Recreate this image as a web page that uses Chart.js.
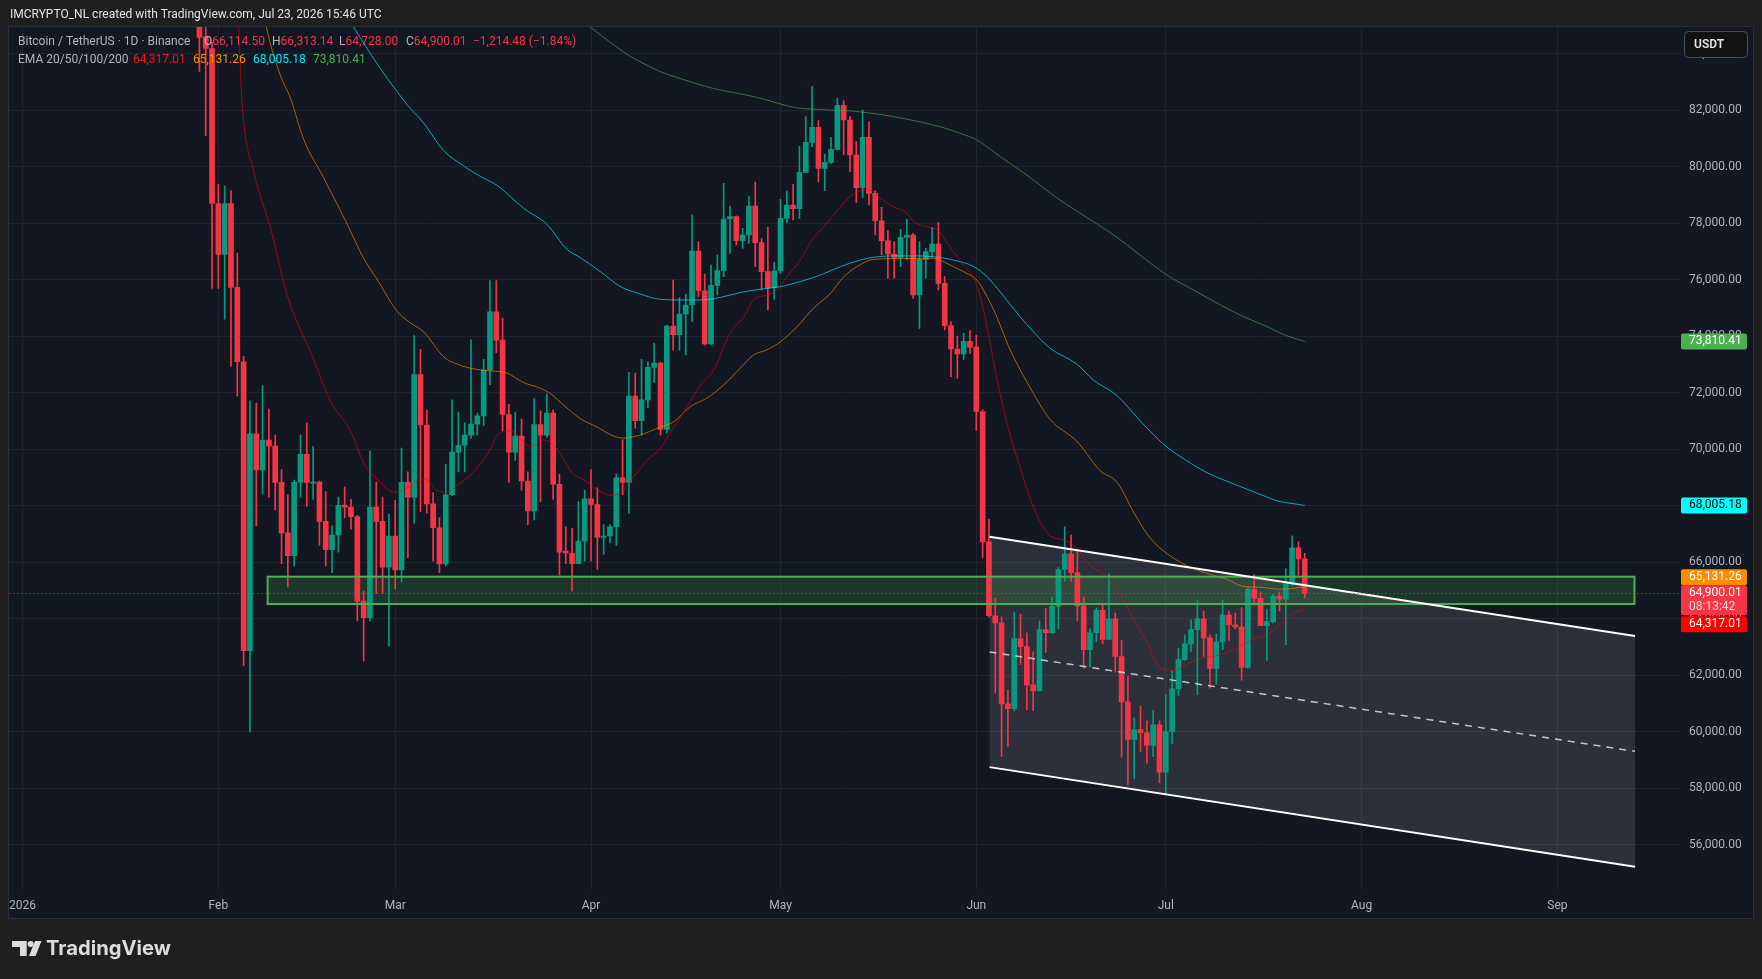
<!DOCTYPE html>
<html>
<head>
<meta charset="utf-8">
<title>Bitcoin / TetherUS 1D</title>
<script src="https://cdn.jsdelivr.net/npm/chart.js@4.4.1/dist/chart.umd.min.js"></script>
<style>
  html, body { margin: 0; padding: 0; background: #1f1f1f; }
  canvas { display: block; }
</style>
</head>
<body>
<canvas id="chart" width="1762" height="979"></canvas>
<script>
// daily candles, one per day starting at firstDate
const firstDate = "2026-01-29";

const opens = [
  85600, 84600, 84182,
  78694, 76892, 78694, 75723, 73092, 62863, 70543, 69260, 70316, 70105, 68822, 67036, 66224, 68822, 69813, 68790, 68830, 67442, 66436, 66955, 68010, 67945, 67605, 64617, 64032, 67945, 67442, 65818,
  66923, 65720, 68822, 68302, 72638, 70852, 68059, 67215, 65932, 68383, 69894, 70138, 70494, 70884, 71176, 72800, 74862, 73856, 71225, 69894, 70462, 68870, 67815, 70868, 70494, 71274, 68757, 66387, 66322, 65948, 66740,
  68240, 68040, 66874, 66923, 67248, 68980, 68822, 71875, 71010, 71740, 72895, 73044, 70700, 74358, 74050, 74782, 75100, 77012, 75607, 73720, 75796, 76316, 78144, 78227, 77378, 77578, 78605, 77307, 76280, 75713,
  76304, 78168, 78640, 78510, 79797, 80859, 81389, 79938, 80151, 80611, 82168, 81649, 80410, 79254, 81035, 79053, 78085, 77378, 76906, 76788, 77496, 77578, 75454, 76717, 76988, 77260, 75867, 74369, 73543, 73366, 73814,
  73610, 71330, 66717, 64100, 63849, 60981, 60813, 63289, 63009, 61652, 61442, 63611, 63499, 64436, 65737, 66297, 65625, 64450, 62898, 63499, 64296, 63261, 63989, 62660, 61051, 59722, 60072, 59960, 59512, 60240,
  58560, 60002, 61512, 62548, 63107, 63611, 63989, 63317, 62240, 63177, 64128, 63779, 63709, 62268, 65038, 64716, 63751, 63891, 64800, 64688, 65220, 66507, 66114.50
];
const highs = [
  86200, 85300, 84400,
  79376, 79311, 79149, 76941, 73287, 71712, 71631, 72248, 71420, 70494, 69277, 68383, 68900, 70494, 70933, 70089, 68870, 68497, 67280, 68302, 68660, 68221, 67653, 64973, 69927, 68822, 68302, 67702,
  68189, 70040, 69196, 74018, 73531, 71388, 68465, 67572, 69472, 71745, 71307, 70933, 73872, 71274, 73174, 75966, 75966, 74635, 71582, 71307, 71063, 69196, 71777, 71355, 71956, 71388, 69114, 67248, 67199, 68140, 68546,
  69277, 68627, 67329, 67329, 69114, 70332, 72719, 72687, 73174, 73093, 73742, 73093, 74391, 75980, 75366, 75479, 78286, 77342, 76198, 76516, 76870, 79407, 78605, 78260, 77814, 78935, 79454, 77460, 77850, 76611,
  78841, 79135, 79372, 80729, 81767, 82829, 81625, 80434, 81035, 82416, 82333, 81767, 80882, 82003, 81590, 79147, 78557, 77732, 77342, 77779, 78133, 77637, 77342, 77106, 77850, 78026, 76103, 74510, 74003, 74097, 74192,
  74030, 71403, 67515, 64716, 64058, 61470, 64226, 64156, 63499, 62827, 63919, 64366, 64758, 65807, 67248, 66955, 66437, 64758, 63639, 64380, 64548, 65597, 64198, 63219, 61960, 60491, 60911, 60379, 60743, 60379,
  61302, 62142, 62940, 63429, 63961, 64660, 64268, 63429, 63457, 64660, 64268, 64198, 64380, 65100, 65555, 64940, 64338, 64856, 64940, 65765, 66927, 66717, 66313.14
];
const lows = [
  83370, 81097, 75690,
  75690, 74602, 72930, 71875, 62327, 59989, 67280, 68416, 68302, 67848, 65948, 65120, 65866, 68302, 67978, 68221, 66598, 65866, 65623, 66354, 67572, 67166, 63919, 62506, 63919, 64893, 64893, 63025,
  65055, 65298, 66160, 67377, 67783, 67735, 66029, 65623, 65866, 68351, 69196, 69196, 70381, 70494, 70819, 72281, 73417, 70657, 68822, 69602, 68546, 67328, 67491, 68140, 70413, 68221, 65542, 65948, 64974, 65940, 66029,
  66029, 65737, 66273, 66679, 66598, 68383, 67734, 70738, 70494, 71469, 72362, 70494, 70575, 73499, 73499, 73336, 74510, 75395, 73680, 73684, 75454, 76103, 76929, 77224, 77106, 77283, 76457, 75631, 74923, 75301,
  76221, 78015, 78109, 78168, 79785, 80705, 79466, 79147, 80115, 80587, 80410, 79820, 78723, 78912, 78640, 77578, 76870, 76044, 76044, 76457, 76693, 75336, 74274, 76044, 76811, 75631, 74215, 72563, 72504, 73177, 73389,
  70660, 66157, 64050, 61358, 59120, 59470, 60729, 62380, 60771, 60743, 61442, 62799, 63457, 63639, 65318, 65318, 63919, 62240, 62282, 63177, 63107, 63261, 62100, 59093, 58112, 58322, 59302, 58882, 59120, 58182,
  57805, 59582, 61260, 62520, 62828, 61302, 62660, 61540, 61680, 62898, 63219, 63639, 61820, 62240, 64478, 63737, 62520, 63849, 64268, 63079, 65178, 65527, 64728.00
];
const closes = [
  84572, 84182, 78694,
  76892, 78694, 75723, 73092, 62863, 70543, 69260, 70316, 70105, 68822, 67036, 66224, 68822, 69813, 68822, 68830, 67442, 66436, 66955, 68010, 67945, 67605, 64617, 64032, 67945, 67442, 65818, 66923,
  65720, 68822, 68302, 72638, 70852, 68059, 67215, 65932, 68383, 69894, 70138, 70494, 70884, 71176, 72800, 74862, 73856, 71225, 69894, 70462, 68870, 67815, 70868, 70494, 71274, 68757, 66354, 66322, 65948, 66740, 68240,
  68040, 66874, 66923, 67248, 68980, 68822, 71875, 71010, 71740, 72895, 73044, 70700, 74358, 74050, 74782, 75100, 77012, 75607, 73720, 75796, 76316, 78144, 78227, 77378, 77578, 78605, 77307, 76280, 75713, 76304,
  78168, 78640, 78510, 79797, 80859, 81389, 79938, 80151, 80611, 82168, 81649, 80410, 79254, 81035, 79053, 78085, 77378, 76906, 76788, 77496, 77578, 75454, 76717, 76988, 77260, 75867, 74369, 73543, 73366, 73814, 73610,
  71330, 66717, 64100, 63849, 60981, 60813, 63289, 63009, 61652, 61442, 63611, 63499, 64436, 65737, 66297, 65625, 64450, 62898, 63499, 64296, 63261, 63989, 62660, 61051, 59722, 60072, 59960, 59512, 60240, 58560,
  60002, 61512, 62548, 63107, 63611, 63989, 63317, 62240, 63177, 64128, 63779, 63709, 62268, 65038, 64716, 63751, 63891, 64800, 64688, 65220, 66507, 66114.49, 64900.01
];

// EMA readings as [day of year, price]
const ema20 = [
  [33.6, 87000], [34.2, 84940], [34.75, 82270], [36.6, 79830], [39.2, 77880], [41.9, 75450], [46.1, 73170],
  [48.7, 71710], [51.9, 70660], [54.0, 69520], [56.1, 68950], [58.8, 68470], [60.9, 68630], [63.5, 68950],
  [65.6, 68550], [67.2, 68470], [68.8, 68710], [71.4, 69200], [74.1, 70010], [75.1, 70490], [77.2, 70660],
  [79.3, 70250], [80.4, 70090], [82.5, 70330], [84.6, 70010], [87.2, 69110], [88.8, 68930], [90.9, 68580],
  [93.0, 68370], [94.6, 68430], [96.7, 69020], [98.9, 69610], [101.0, 70030], [103.1, 70790], [105.2, 71500],
  [107.3, 72270], [109.4, 72800], [112.0, 74100], [114.2, 74690], [115.7, 75280], [117.8, 75450], [119.4, 75630],
  [121.0, 76100], [123.1, 76690], [125.2, 77460], [127.3, 77990], [129.5, 78580], [131.6, 79050], [133.7, 79170],
  [134.7, 79110], [135.8, 78880], [137.9, 78580], [140.0, 78350], [141.1, 78050], [143.2, 77870], [144.8, 77760],
  [146.3, 77340], [148.4, 76670], [151.1, 75800], [152.7, 74330], [154.2, 72560], [156.1, 70700], [158.0, 69310],
  [160.1, 67910], [162.7, 66930], [164.8, 66790], [166.9, 66510], [169.0, 65880], [171.1, 65600], [173.8, 64830],
  [175.9, 63990], [178.0, 63150], [180.1, 62240], [182.2, 62170], [184.3, 62380], [186.4, 62590], [188.5, 62660],
  [190.7, 62800], [192.8, 63010], [194.9, 63290], [197.0, 63430], [199.1, 63780], [201.2, 64200], [203, 64317.01]
];
const ema50 = [
  [36.6, 87500], [38.6, 84940], [40.8, 83240], [42.4, 82430], [44.5, 80970], [47.7, 79590], [51.4, 77960],
  [54.0, 76750], [56.1, 76020], [59.3, 74880], [61.4, 74470], [63.5, 74150], [66.7, 73260], [68.8, 73010],
  [71.9, 72820], [74.1, 72770], [76.7, 72690], [79.3, 72360], [82.0, 72150], [83.6, 71960], [85.7, 71550],
  [88.5, 71050], [90.9, 70790], [93.6, 70460], [95.2, 70390], [97.8, 70500], [100.4, 70730], [103.1, 70970],
  [105.7, 71500], [108.3, 71800], [111.0, 72270], [113.6, 72860], [115.7, 73330], [117.8, 73510], [120.0, 73800],
  [122.6, 74330], [125.2, 74980], [127.9, 75510], [130.0, 76100], [132.1, 76460], [134.2, 76690], [136.8, 76740],
  [139.5, 76750], [142.1, 76750], [144.2, 76750], [145.8, 76630], [147.9, 76400], [150.0, 76160], [151.1, 75980],
  [152.7, 75400], [154.3, 74650], [156.1, 73640], [159.0, 72380], [162.7, 71050], [166.9, 70280], [170.6, 69240],
  [173.3, 68820], [175.9, 67770], [178.5, 66860], [181.2, 66300], [184.3, 65880], [187.5, 65600], [190.7, 65390],
  [193.3, 65140], [195.9, 65110], [199.1, 65040], [201.2, 65070], [203, 65131.26]
];
const ema100 = [
  [48, 86500], [52.4, 84940], [56.1, 83650], [60.9, 82190], [63.5, 81540], [66.7, 80560], [69.8, 80030],
  [73.0, 79590], [75.1, 79340], [79.3, 78530], [83.0, 77960], [86.2, 77070], [88.3, 76780], [91.5, 76280],
  [94.6, 75760], [97.8, 75490], [101.0, 75300], [104.1, 75280], [107.3, 75280], [110.5, 75370], [113.6, 75540],
  [116.8, 75660], [120.0, 75750], [123.1, 75930], [126.3, 76160], [129.5, 76460], [132.6, 76690], [134.7, 76790],
  [137.9, 76840], [141.1, 76840], [144.2, 76810], [147.4, 76690], [150.6, 76460], [152.7, 76100], [154.8, 75560],
  [156.4, 75110], [159.0, 74410], [162.7, 73570], [166.9, 73010], [169.5, 72450], [173.3, 71890], [175.9, 71260],
  [178.5, 70630], [181.2, 70070], [184.3, 69590], [187.5, 69170], [190.7, 68860], [193.3, 68630], [195.9, 68400],
  [199.1, 68140], [201.2, 68070], [203, 68005.18]
];
const ema200 = [
  [84, 85950], [89.9, 84940], [95.2, 84050], [97.3, 83770], [101.0, 83360], [104.1, 83120], [108.3, 82830],
  [110.5, 82710], [114.7, 82530], [117.8, 82360], [122.1, 82100], [125.2, 82030], [130.5, 81980], [133.7, 81910],
  [137.9, 81770], [141.1, 81630], [145.3, 81410], [148.4, 81180], [151.1, 80940], [154.8, 80350], [159.0, 79700],
  [163.7, 78900], [166.9, 78430], [173.3, 77490], [179.0, 76510], [181.2, 76160], [185.4, 75630], [189.6, 75110],
  [193.3, 74690], [197.0, 74340], [199.6, 74060], [203, 73810.41]
];

// axes
const monthTicks = [0, 31, 59, 90, 120, 151, 181, 212, 243];
const monthLabels = ["2026", "Feb", "Mar", "Apr", "May", "Jun", "Jul", "Aug", "Sep"];
const priceTicks = [56000, 58000, 60000, 62000, 64000, 66000, 68000, 70000, 72000, 74000, 76000, 78000, 80000, 82000, 84000];

// drawings (day of year, price)
const zoneDays = [38.8, 255.2];
const zonePrices = [64516, 65484];
const channelDays = [153.1, 255.3];
const channelUpper = [66899, 63384];
const channelLower = [58743, 55218];

const countdown = "08:13:42";
const headerText = "IMCRYPTO_NL created with TradingView.com, Jul 23, 2026 15:46 UTC";

// ---------------------------------------------------------------
const UP = "#089981";
const DOWN = "#f23645";
const GRID = "#20242f";
const TEXT = "#b2b5be";
const FONT = "Roboto, 'Noto Sans', sans-serif";
const emaColors = ["#f21616", "#ff8c00", "#00e5ff", "#4caf50"];
const emaLines = ["rgba(255,0,0,0.55)", "rgba(255,140,0,0.62)", "rgba(0,229,255,0.7)", "rgba(76,175,80,0.6)"];

const dayOfYear = (iso) => (Date.parse(iso) - Date.parse("2026-01-01")) / 86400000;
const startDay = dayOfYear(firstDate);
const days = closes.map((_, i) => startDay + i);
const candleColors = closes.map((c, i) => (c >= opens[i] ? UP : DOWN));
const last = closes.length - 1;

const fmt = (v) => v.toLocaleString("en-US", { minimumFractionDigits: 2, maximumFractionDigits: 2 });
const fmtSigned = (v) => (v < 0 ? "\u2212" : "+") + fmt(Math.abs(v));

const emaLine = (pts, color, label) => ({
  type: "line",
  label: label,
  data: pts.map(([x, y]) => ({ x: x, y: y })),
  borderColor: color,
  borderWidth: 1,
  pointRadius: 0,
  cubicInterpolationMode: "monotone",
  order: 0,
});

const frame = {
  id: "frame",
  beforeDraw(chart) {
    const ctx = chart.ctx;
    ctx.save();
    ctx.fillStyle = "#1f1f1f";
    ctx.fillRect(0, 0, chart.width, chart.height);
    ctx.fillStyle = "#131722";
    ctx.fillRect(9, 27, 1744, 891);
    ctx.strokeStyle = "#2a2e39";
    ctx.lineWidth = 1;
    ctx.strokeRect(8.5, 26.5, 1745, 892);
    // snapshot header
    ctx.font = "13px " + FONT;
    const w = ctx.measureText(headerText).width;
    ctx.font = (13 * 372 / w).toFixed(2) + "px " + FONT;
    ctx.fillStyle = "#e1e3ea";
    ctx.textBaseline = "middle";
    ctx.fillText(headerText, 10, 15);
    ctx.restore();
  },
  beforeDatasetsDraw(chart) {
    const { ctx, chartArea: a, scales: { x, y } } = chart;
    ctx.save();
    ctx.beginPath();
    ctx.rect(a.left, a.top, a.right - a.left, a.bottom - a.top);
    ctx.clip();
    // channel fill
    ctx.fillStyle = "rgba(255,255,255,0.11)";
    ctx.beginPath();
    ctx.moveTo(x.getPixelForValue(channelDays[0]), y.getPixelForValue(channelUpper[0]));
    ctx.lineTo(x.getPixelForValue(channelDays[1]), y.getPixelForValue(channelUpper[1]));
    ctx.lineTo(x.getPixelForValue(channelDays[1]), y.getPixelForValue(channelLower[1]));
    ctx.lineTo(x.getPixelForValue(channelDays[0]), y.getPixelForValue(channelLower[0]));
    ctx.closePath();
    ctx.fill();
    // zone fill
    const zx0 = x.getPixelForValue(zoneDays[0]), zx1 = x.getPixelForValue(zoneDays[1]);
    const zy0 = y.getPixelForValue(zonePrices[1]), zy1 = y.getPixelForValue(zonePrices[0]);
    ctx.fillStyle = "rgba(76,175,80,0.2)";
    ctx.fillRect(zx0, zy0, zx1 - zx0, zy1 - zy0);
    ctx.restore();
  },
  afterDatasetsDraw(chart) {
    const { ctx, chartArea: a, scales: { x, y } } = chart;
    ctx.save();
    ctx.beginPath();
    ctx.rect(a.left, a.top, a.right - a.left, a.bottom - a.top);
    ctx.clip();
    const seg = (d0, p0, d1, p1) => {
      ctx.beginPath();
      ctx.moveTo(x.getPixelForValue(d0), y.getPixelForValue(p0));
      ctx.lineTo(x.getPixelForValue(d1), y.getPixelForValue(p1));
      ctx.stroke();
    };
    // zone border
    const zx0 = x.getPixelForValue(zoneDays[0]), zx1 = x.getPixelForValue(zoneDays[1]);
    const zy0 = y.getPixelForValue(zonePrices[1]), zy1 = y.getPixelForValue(zonePrices[0]);
    ctx.strokeStyle = "#4caf50";
    ctx.lineWidth = 2;
    ctx.strokeRect(zx0, zy0, zx1 - zx0, zy1 - zy0);
    // channel
    ctx.strokeStyle = "#ffffff";
    ctx.lineWidth = 2;
    seg(channelDays[0], channelUpper[0], channelDays[1], channelUpper[1]);
    seg(channelDays[0], channelLower[0], channelDays[1], channelLower[1]);
    ctx.strokeStyle = "rgba(220,222,228,0.85)";
    ctx.lineWidth = 1.5;
    ctx.setLineDash([7, 6]);
    seg(channelDays[0], (channelUpper[0] + channelLower[0]) / 2, channelDays[1], (channelUpper[1] + channelLower[1]) / 2);
    // last price line
    const py = Math.round(y.getPixelForValue(closes[last])) + 0.5;
    ctx.strokeStyle = DOWN;
    ctx.lineWidth = 1;
    ctx.setLineDash([1, 3]);
    ctx.beginPath();
    ctx.moveTo(a.left, py);
    ctx.lineTo(a.right, py);
    ctx.stroke();
    ctx.restore();
  },
  afterDraw(chart) {
    const { ctx, scales: { y } } = chart;
    ctx.save();
    ctx.textBaseline = "middle";
    ctx.font = "12px " + FONT;
    const put = (t, xx, yy, color) => {
      ctx.fillStyle = color;
      ctx.fillText(t, xx, yy);
      return xx + ctx.measureText(t).width;
    };
    // legend line 1
    put("Bitcoin / TetherUS \u00b7 1D \u00b7 Binance", 18, 42, TEXT);
    const ohlc = [["O", opens[last], 204], ["H", highs[last], 272], ["L", lows[last], 339], ["C", closes[last], 406]];
    const legendColor = closes[last] >= opens[last] ? UP : DOWN;
    ohlc.forEach(([k, v, xx]) => {
      const e = put(k, xx, 42, TEXT);
      put(fmt(v), e, 42, legendColor);
    });
    const chg = closes[last] - closes[last - 1];
    const pct = chg / closes[last - 1] * 100;
    put(fmtSigned(chg) + " (" + fmtSigned(pct) + "%)", 473, 42, legendColor);
    // legend line 2
    put("EMA 20/50/100/200", 18, 59.5, TEXT);
    [ema20, ema50, ema100, ema200].forEach((e, i) => {
      put(fmt(e[e.length - 1][1]), [133, 193, 253, 313][i], 59.5, emaColors[i]);
    });

    // price axis labels
    const boxes = [
      { value: ema200[ema200.length - 1][1], bg: "#4caf50", fg: "#ffffff", lines: [fmt(ema200[ema200.length - 1][1])] },
      { value: ema100[ema100.length - 1][1], bg: "#00ffff", fg: "#000000", lines: [fmt(ema100[ema100.length - 1][1])] },
      { value: ema50[ema50.length - 1][1], bg: "#ff8c00", fg: "#ffffff", lines: [fmt(ema50[ema50.length - 1][1])] },
      { value: closes[last], bg: "#f23645", fg: "#ffffff", lines: [fmt(closes[last]), countdown], anchor: true },
      { value: ema20[ema20.length - 1][1], bg: "#ff0000", fg: "#ffffff", lines: [fmt(ema20[ema20.length - 1][1])] },
    ];
    boxes.forEach((b) => {
      b.h = b.lines.length === 1 ? 16 : 30;
      b.top = y.getPixelForValue(b.value) - 8;
    });
    const anchor = boxes.find((b) => b.anchor);
    let limit = anchor.top;
    boxes.filter((b) => b.value > anchor.value).sort((p, q) => p.value - q.value).forEach((b) => {
      if (b.top + b.h > limit) b.top = limit - b.h;
      limit = b.top;
    });
    limit = anchor.top + anchor.h;
    boxes.filter((b) => b.value < anchor.value).sort((p, q) => q.value - p.value).forEach((b) => {
      if (b.top < limit + 1) b.top = limit + 1;
      limit = b.top + b.h;
    });
    boxes.forEach((b) => {
      ctx.fillStyle = b.bg;
      ctx.beginPath();
      ctx.roundRect(1681, b.top, 66, b.h, 2);
      ctx.fill();
      b.lines.forEach((t, i) => {
        ctx.fillStyle = i === 0 ? b.fg : "rgba(255,255,255,0.8)";
        ctx.fillText(t, 1689, b.top + 8 + i * 14);
      });
    });

    // currency button
    ctx.fillStyle = "#121212";
    ctx.strokeStyle = "#4a4d57";
    ctx.lineWidth = 1;
    ctx.beginPath();
    ctx.roundRect(1684.5, 31.5, 63, 26, 4);
    ctx.fill();
    ctx.stroke();
    ctx.font = "600 12px " + FONT;
    ctx.fillStyle = "#e1e3ea";
    ctx.fillText("USDT", 1694, 45);

    // TradingView logo
    ctx.fillStyle = "#dcdcdc";
    ctx.beginPath();
    ctx.moveTo(12, 941); ctx.lineTo(26.7, 941); ctx.lineTo(26.7, 956); ctx.lineTo(20, 956);
    ctx.lineTo(20, 947); ctx.lineTo(12, 947); ctx.closePath();
    ctx.fill();
    ctx.beginPath();
    ctx.arc(30.6, 944, 3, 0, Math.PI * 2);
    ctx.fill();
    ctx.beginPath();
    ctx.moveTo(35, 941); ctx.lineTo(41.5, 941); ctx.lineTo(35.5, 956); ctx.lineTo(29, 956);
    ctx.closePath();
    ctx.fill();
    ctx.font = "700 20px Inter, " + FONT;
    const lw = ctx.measureText("TradingView").width;
    ctx.font = "700 " + (20 * 125 / lw).toFixed(2) + "px Inter, " + FONT;
    ctx.fillText("TradingView", 46, 949);
    ctx.restore();
  },
};

new Chart(document.getElementById("chart").getContext("2d"), {
  type: "bar",
  data: {
    datasets: [
      emaLine(ema20, emaLines[0], "EMA 20"),
      emaLine(ema50, emaLines[1], "EMA 50"),
      emaLine(ema100, emaLines[2], "EMA 100"),
      emaLine(ema200, emaLines[3], "EMA 200"),
      {
        label: "body",
        data: days.map((d, i) => ({ x: d, y: [opens[i], closes[i]] })),
        backgroundColor: candleColors,
        barThickness: 5,
        minBarLength: 1,
        grouped: false,
        order: 1,
      },
      {
        label: "wick",
        data: days.map((d, i) => ({ x: d, y: [lows[i], highs[i]] })),
        backgroundColor: candleColors,
        barThickness: 1,
        grouped: false,
        order: 2,
      },
    ],
  },
  options: {
    responsive: false,
    animation: false,
    devicePixelRatio: 1,
    layout: { padding: { left: 9, top: 27, right: 9, bottom: 61 } },
    plugins: { legend: { display: false }, tooltip: { enabled: false } },
    scales: {
      x: {
        type: "linear",
        offset: false,
        min: -2.07,
        max: 262.41,
        afterBuildTicks: (scale) => {
          scale.ticks = monthTicks.map((v) => ({ value: v }));
        },
        afterFit: (scale) => {
          scale.height = 28;
        },
        ticks: {
          autoSkip: false,
          maxRotation: 0,
          padding: 9,
          color: TEXT,
          font: { family: FONT, size: 12 },
          callback: (v) => monthLabels[monthTicks.indexOf(v)],
        },
        grid: { color: GRID, drawTicks: false, offset: false },
        border: { display: false },
      },
      y: {
        position: "right",
        min: 54393,
        max: 84942,
        afterBuildTicks: (scale) => {
          scale.ticks = priceTicks.map((v) => ({ value: v }));
        },
        afterFit: (scale) => {
          scale.width = 73;
        },
        ticks: {
          padding: 9,
          color: TEXT,
          font: { family: FONT, size: 12 },
          callback: (v) => fmt(v),
        },
        grid: { color: GRID, drawTicks: false },
        border: { display: false },
      },
    },
  },
  plugins: [frame],
});
</script>
</body>
</html>
